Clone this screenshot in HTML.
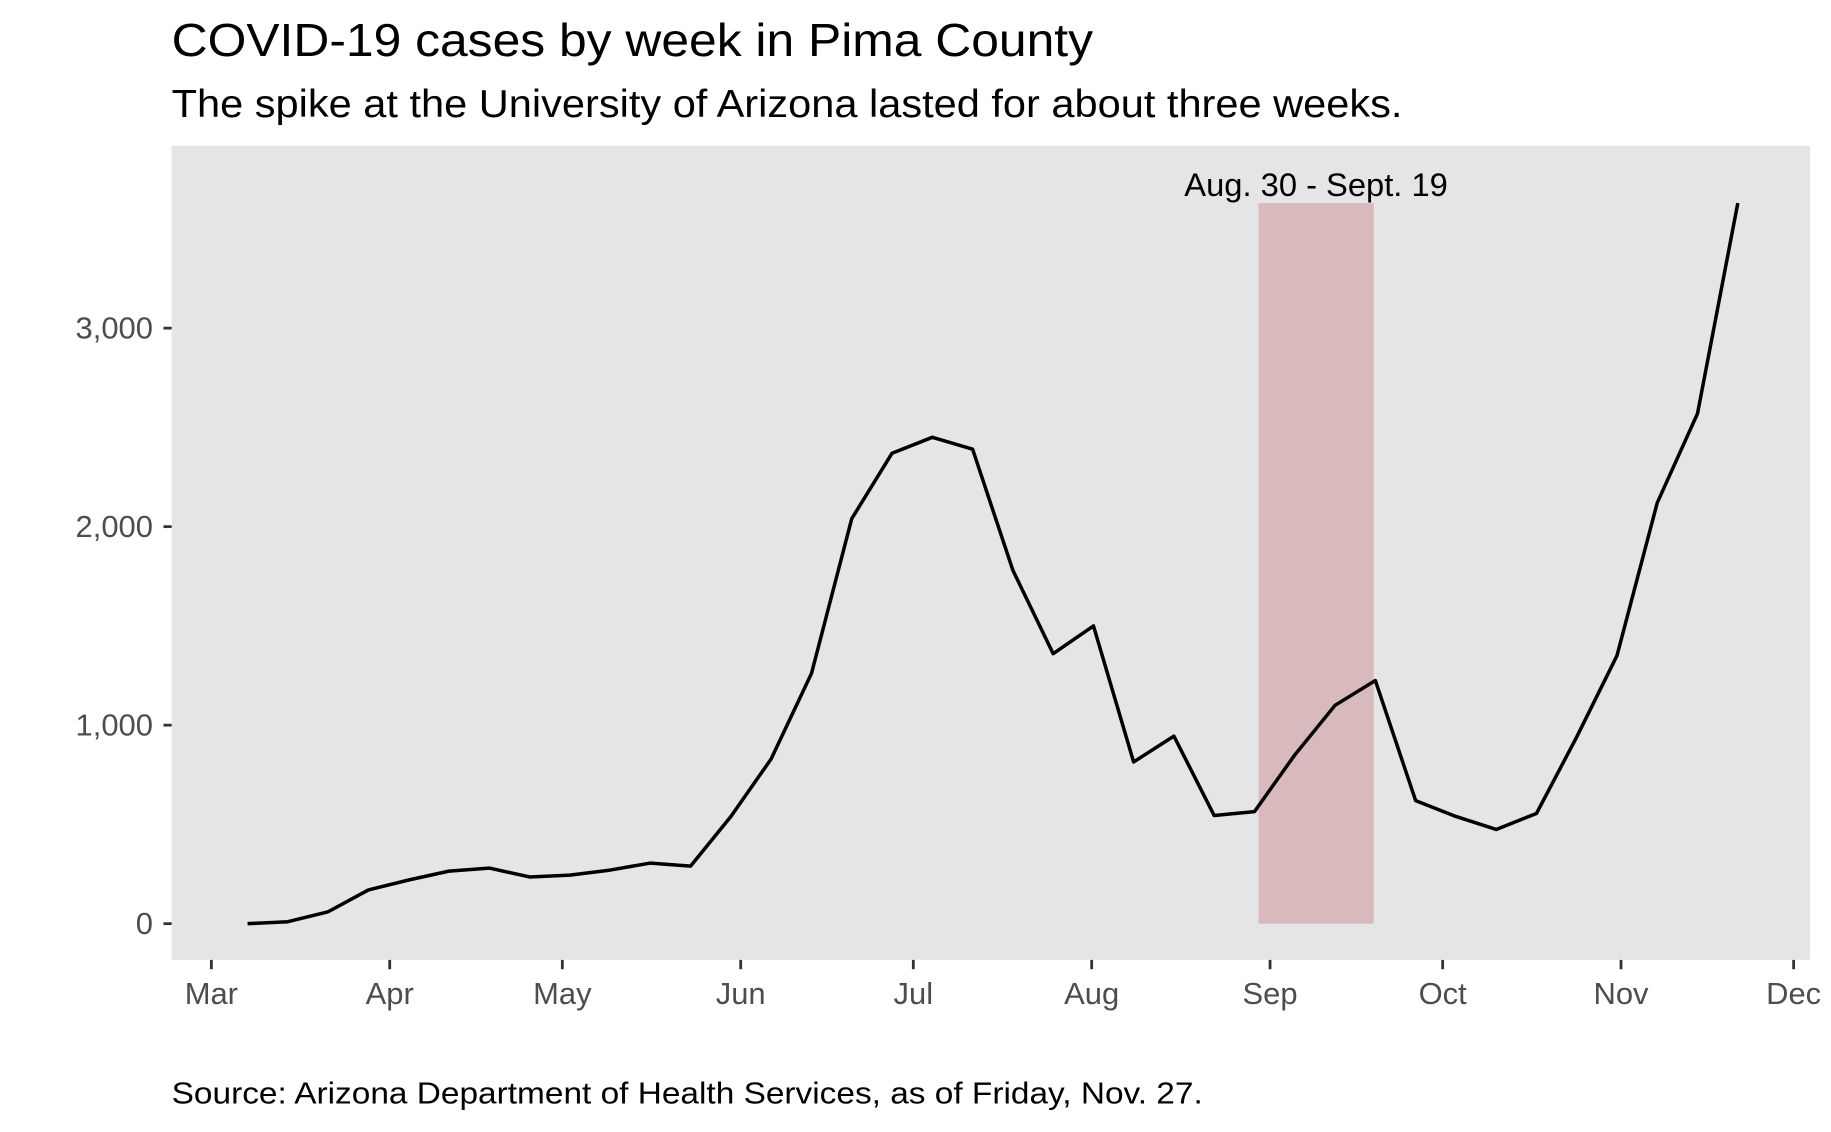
<!DOCTYPE html>
<html><head><meta charset="utf-8"><style>
html,body{margin:0;padding:0;background:#fff;}
svg{display:block;font-family:"Liberation Sans",Arial,sans-serif;}
</style></head><body>
<svg id="chart" width="1831" height="1132" viewBox="0 0 1568 969.4" preserveAspectRatio="none">
<rect x="0" y="0" width="1568" height="970" fill="#fff"/>
<text x="147" y="48" font-size="40" textLength="789" lengthAdjust="spacingAndGlyphs" fill="#000">COVID-19 cases by week in Pima County</text>
<text x="147" y="100" font-size="33" textLength="1054" lengthAdjust="spacingAndGlyphs" fill="#000">The spike at the University of Arizona lasted for about three weeks.</text>
<rect x="147" y="125" width="1403" height="697" fill="#e5e5e5"/>
<g id="yaxis"></g>
<g id="xaxis"></g>
<g id="marks"></g>
<text x="147" y="945" font-size="26" textLength="883" lengthAdjust="spacingAndGlyphs" fill="#000">Source: Arizona Department of Health Services, as of Friday, Nov. 27.</text>
</svg>
<script>
const weekValues = [0,10,60,170,220,265,280,235,245,270,305,290,540,830,1260,2040,2370,2450,2390,1780,1360,1500,815,945,545,565,850,1100,1225,620,540,475,555,940,1350,2120,2570,3630];
const firstWeekDay = 6.3; // days after Mar 1
const monthLabels = ["Mar","Apr","May","Jun","Jul","Aug","Sep","Oct","Nov","Dec"];
const monthDays = [0,31,61,92,122,153,184,214,245,275];
const yTicks = [0,1000,2000,3000];
const yTickLabels = ["0","1,000","2,000","3,000"];
const spikeStartDay = 182, spikeEndDay = 202;
const spikeLabel = "Aug. 30 - Sept. 19";

const NS="http://www.w3.org/2000/svg";
function x(day){return 181 + day*(1536-181)/275;}
function y(v){return 791 - v*0.17;}
function mk(tag,attrs,parent){const e=document.createElementNS(NS,tag);for(const k in attrs)e.setAttribute(k,attrs[k]);parent.appendChild(e);return e;}
const ya=document.getElementById('yaxis'), xa=document.getElementById('xaxis'), mg=document.getElementById('marks');

yTicks.forEach((v,i)=>{
  const t=mk('line',{x1:140,x2:147,y1:y(v),y2:y(v),stroke:'#333','stroke-width':2.4},ya);
  
  
  const l=mk('text',{x:131,y:y(v)+9,'font-size':26.5,fill:'#4d4d4d','text-anchor':'end'},ya);
  l.textContent=yTickLabels[i];
  
  
});
monthLabels.forEach((m,i)=>{
  const px=x(monthDays[i]);
  const t=mk('line',{x1:px,x2:px,y1:822,y2:830,stroke:'#333','stroke-width':2.4},xa);
  
  
  const l=mk('text',{x:px,y:860,'font-size':26.5,fill:'#4d4d4d','text-anchor':'middle'},xa);
  l.textContent=m;
  
  
});
const maxV=Math.max(...weekValues);
const r=mk('rect',{x:x(spikeStartDay),y:y(maxV),width:x(spikeEndDay)-x(spikeStartDay),height:y(0)-y(maxV),fill:'#d8babd'},mg);


const sl=mk('text',{x:(x(spikeStartDay)+x(spikeEndDay))/2,y:y(maxV)-6,'font-size':28,fill:'#000','text-anchor':'middle'},mg);
sl.textContent=spikeLabel;


const pts=weekValues.map((v,i)=>x(firstWeekDay+7*i).toFixed(1)+','+y(v).toFixed(1)).join(' ');
const pl=mk('polyline',{points:pts,fill:'none',stroke:'#000','stroke-width':3,'stroke-linejoin':'round'},mg);


</script>
</body></html>
